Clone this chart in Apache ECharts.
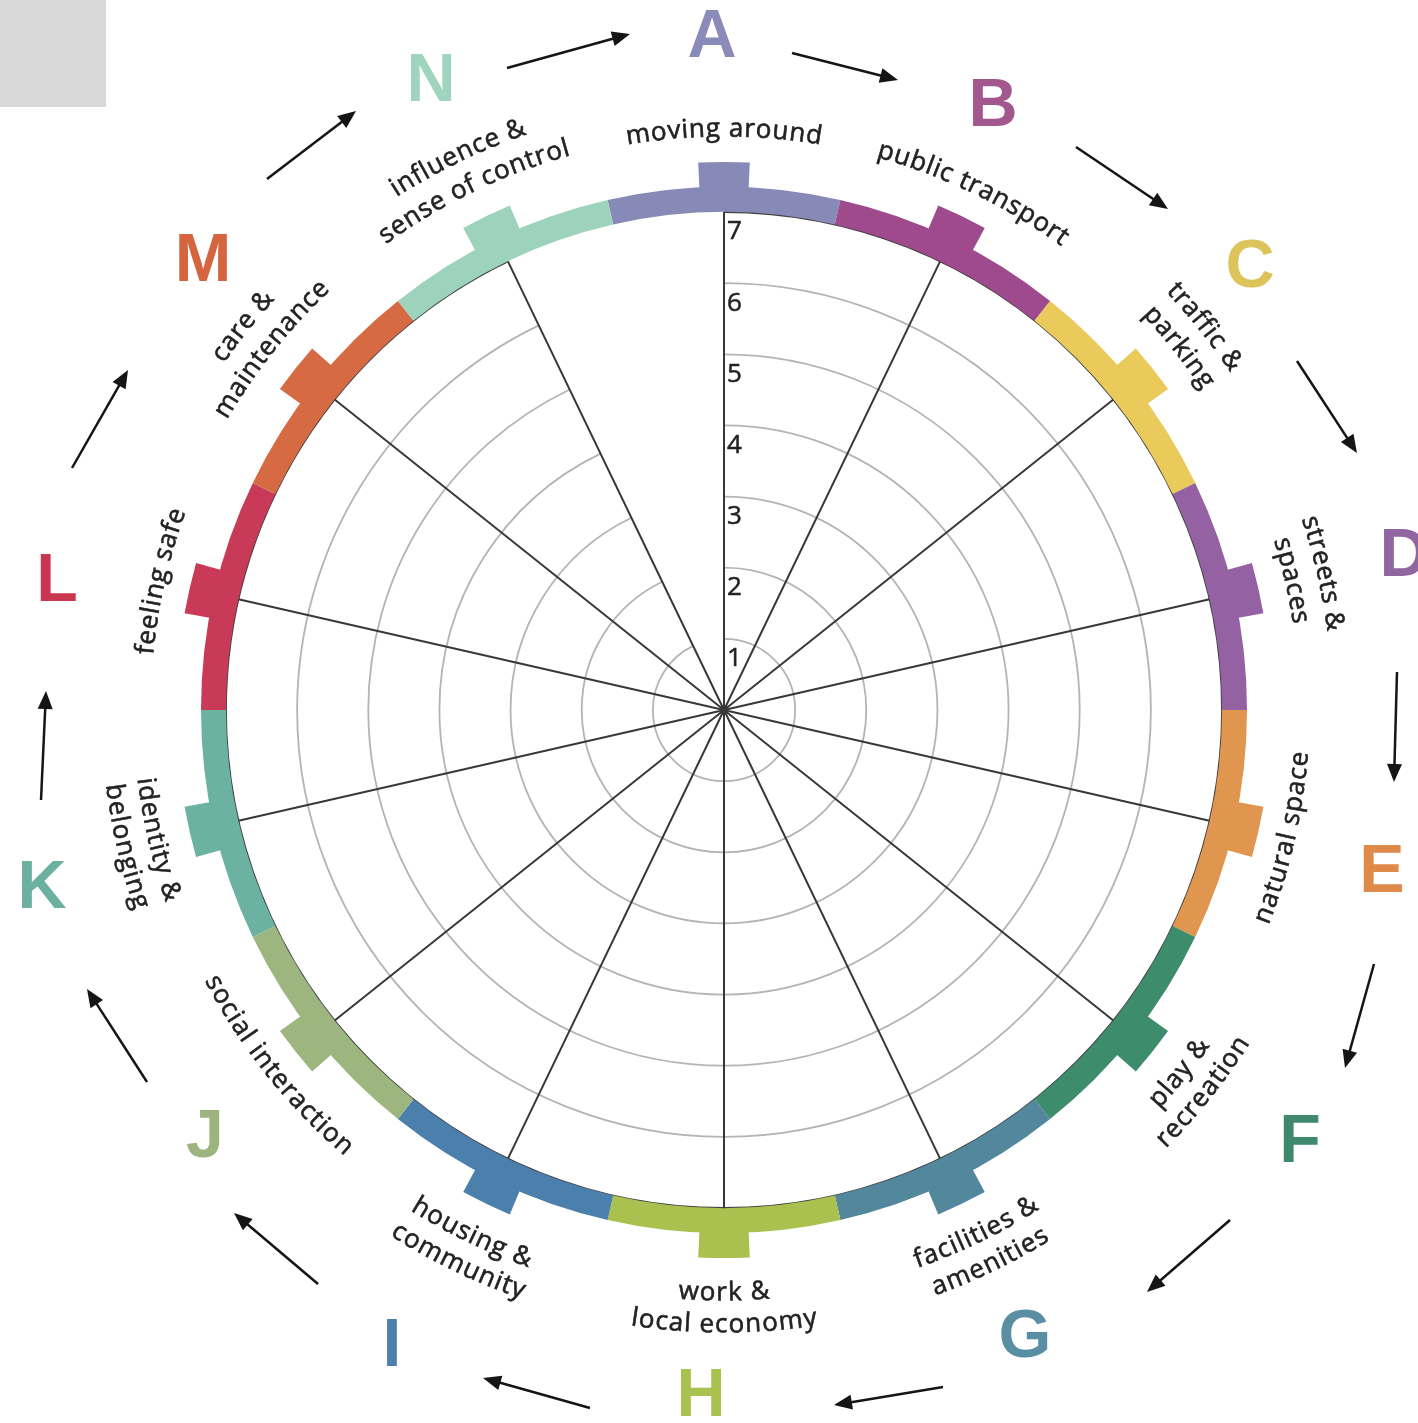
<!DOCTYPE html>
<html><head><meta charset="utf-8">
<script src="https://cdn.jsdelivr.net/npm/echarts@6/dist/echarts.min.js"></script>
<style>html,body{margin:0;padding:0;background:#fff}#chart{width:1418px;height:1423px}</style>
</head><body><div id="chart"></div>
<script>
// ---------- data ----------
const categories = ['moving around','public transport','traffic & parking','streets & spaces','natural space','play & recreation','facilities & amenities','work & local economy','housing & community','social interaction','identity & belonging','feeling safe','care & maintenance','influence & sense of control'];
const labelLines = [['moving around'],['public transport'],['traffic &','parking'],['streets &','spaces'],['natural space'],['play &','recreation'],['facilities &','amenities'],['work &','local economy'],['housing &','community'],['social interaction'],['identity &','belonging'],['feeling safe'],['care &','maintenance'],['influence &','sense of control']];
const letters = ['A','B','C','D','E','F','G','H','I','J','K','L','M','N'];
const segmentColors = ['#8789b6','#9e4a8c','#e9ca5b','#9461a2','#e0964f','#3d8c6c','#53879c','#aac150','#4b7fac','#9db57f','#6cb2a2','#c83a58','#d66a43','#9dd2bc'];
const letterColors = ['#8a8bb8','#a2588f','#dcc35a','#9165a0','#e08a4a','#3f8a6c','#5a8ea3','#a9c14f','#4f80ad','#9cb47e','#6cb0a0','#c9364f','#d4653f','#9fd4be'];
const bandValues = [1,1,1,1,1,1,1,1,1,1,1,1,1,1];
const tabValues  = [1,1,1,1,1,1,1,1,1,1,1,1,1,1];
const scoreTicks = [0,1,2,3,4,5,6,7];

// ---------- layout ----------
const CX = 724, CY = 710, R7 = 498;
const letterPos = [[712,38],[993,107],[1250,268],[1404,557],[1382,873],[1300,1143],[1025,1338],[701,1397],[392,1347],[205,1138],[42,889],[57,582],[203,262],[431,82]];
const arrows = [[792,53,898,80],[1076,147,1168,209],[1297,361,1357,453],[1397,672,1394,782],[1374,964,1345,1068],[1230,1220,1147,1292],[943,1387,834,1405],[590,1408,483,1378],[318,1284,234,1213],[147,1082,87,989],[41,800,46,691],[72,468,128,370],[267,179,356,111],[507,68,630,34]];
const FS = 26, LS = 1.0, FONT = '"Open Sans"', TXT = '#222222';

const graphics = [];
graphics.push({type:'rect', shape:{x:0,y:0,width:106,height:107}, style:{fill:'#d9d9d9'}, z:1});

// letters
letters.forEach((l,i)=>{
  graphics.push({type:'text', x:letterPos[i][0], y:letterPos[i][1], z:10,
    style:{text:l, fill:letterColors[i], fontSize:68, fontWeight:'bold', fontFamily:'"Liberation Sans", Arial',
      align:'center', verticalAlign:'middle'}});
});
// arrows
arrows.forEach(a=>{
  const [x1,y1,x2,y2] = a;
  const dx = x2-x1, dy = y2-y1, L = Math.hypot(dx,dy), ux = dx/L, uy = dy/L;
  const hl = 18, hw = 7.5;
  const bx = x2-ux*hl, by = y2-uy*hl;
  graphics.push({type:'line', shape:{x1:x1,y1:y1,x2:bx+ux*2,y2:by+uy*2}, style:{stroke:'#151515', lineWidth:2.5}, z:10});
  graphics.push({type:'polygon', shape:{points:[[x2,y2],[bx-uy*hw,by+ux*hw],[bx+uy*hw,by-ux*hw]]}, style:{fill:'#151515'}, z:10});
});
// curved labels
const meas = document.createElement('canvas').getContext('2d');
meas.font = FS + 'px ' + FONT;
const step = 360/categories.length;
labelLines.forEach((lines,i)=>{
  const theta = i*step;
  const flipped = theta > 90 && theta < 270;
  let radii;
  if (lines.length === 1) radii = flipped ? [578] : [581];
  else radii = flipped ? [583,615] : [616,583];
  const dir = flipped ? -1 : 1;
  lines.forEach((txt,li)=>{
    const r = radii[li];
    const chars = txt.split('');
    const ws = chars.map(c=>meas.measureText(c).width);
    const total = ws.reduce((a,b)=>a+b,0) + LS*(chars.length-1);
    let s = -total/2;
    chars.forEach((c,k)=>{
      const sc = s + ws[k]/2;
      s += ws[k] + LS;
      if (c === ' ') return;
      const phi = (theta*Math.PI/180) + dir*sc/r;
      const x = CX + r*Math.sin(phi), y = CY - r*Math.cos(phi);
      const rot = flipped ? -(phi+Math.PI) : -phi;
      graphics.push({type:'text', x:x, y:y, rotation:rot, z:10,
        style:{text:c, fill:TXT, fontSize:FS, fontFamily:FONT, stroke:TXT, lineWidth:0.6,
          align:'center', verticalAlign:'middle'}});
    });
  });
});

const hiddenAngle = (idx)=>({polarIndex:idx, type:'category', data:categories, startAngle:90+step/2, clockwise:true, boundaryGap:true,
  axisLine:{show:false}, axisTick:{show:false}, axisLabel:{show:false}, splitLine:{show:false}});
const hiddenRadius = (idx)=>({polarIndex:idx, type:'value', min:0, max:1,
  axisLine:{show:false}, axisTick:{show:false}, axisLabel:{show:false}, splitLine:{show:false}});

const option = {
  animation:false,
  backgroundColor:'#ffffff',
  polar:[{center:[CX,CY], radius:R7},{center:[CX,CY], radius:[R7,523]},{center:[CX,CY], radius:[520,548]}],
  angleAxis:[
    {polarIndex:0, type:'category', data:categories, startAngle:90, clockwise:true, boundaryGap:false,
      axisLine:{show:false}, axisTick:{show:false}, axisLabel:{show:false},
      splitLine:{show:true, lineStyle:{color:'#383838', width:2}}},
    hiddenAngle(1), hiddenAngle(2)
  ],
  radiusAxis:[
    {polarIndex:0, type:'value', min:0, max:7, interval:1,
      axisLine:{show:false}, axisTick:{show:false},
      splitLine:{show:true, lineStyle:{color:['#b4b4b4','#b4b4b4','#b4b4b4','#b4b4b4','#b4b4b4','#b4b4b4','#b4b4b4','#404040'], width:1.8}},
      axisLabel:{show:true, margin:-3, align:'left', verticalAlign:'top', padding:[7,0,0,0], fontSize:26, color:'#222', fontFamily:FONT,
        textBorderColor:'#222', textBorderWidth:0.5,
        formatter:(v)=> scoreTicks.indexOf(v) > 0 ? String(v) : ''}},
    hiddenRadius(1), hiddenRadius(2)
  ],
  series:[
    {type:'bar', coordinateSystem:'polar', polarIndex:1, barCategoryGap:'0%', silent:true,
      data: bandValues.map((v,i)=>({value:v, itemStyle:{color:segmentColors[i]}}))},
    {type:'bar', coordinateSystem:'polar', polarIndex:2, barWidth:'21%', silent:true,
      data: tabValues.map((v,i)=>({value:v, itemStyle:{color:segmentColors[i]}}))}
  ],
  graphic: graphics
};
const chart = echarts.init(document.getElementById('chart'), null, {renderer:'canvas'});
chart.setOption(option);
</script></body></html>
